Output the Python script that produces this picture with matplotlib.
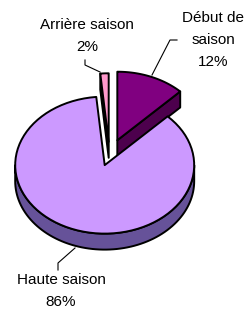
import numpy as np
import matplotlib

matplotlib.use("Agg")
import matplotlib.pyplot as plt
from matplotlib.patches import Polygon

# Données du graphique (parts de fréquentation par saison)
categories = ["Début de\nsaison", "Haute saison", "Arrière saison"]
values = [12.4, 86.1, 1.5]
explode = [0.23, 0.16, 0.19]
colors_top = ["#800080", "#CC99FF", "#FF99CC"]
colors_side = ["#4D004D", "#665299", "#995C7A"]

W, H = 249, 310
RX, RY = 89.5, 68.5  # demi-axes de l'ellipse en pixels
CX, CY = 109.5, 154.8  # centre du camembert en pixels
DEPTH = 16 / RY  # épaisseur du disque, en unités de rayon


def arc(cx, cy, a1, a2, n=80):
    t = np.radians(np.linspace(a1, a2, n))
    return np.column_stack([cx + np.cos(t), cy + np.sin(t)])


def px(x, y):
    # coordonnées pixels (origine en haut à gauche) -> fraction de figure
    return x / W, 1 - y / H


fig = plt.figure(figsize=(W / 100, H / 100), dpi=100)
ax = fig.add_axes([0, 0, 1, 1])
ax.set_xlim(-CX / RX, (W - CX) / RX)
ax.set_ylim(-(H - CY) / RY, CY / RY)
ax.axis("off")

total = sum(values)
start = 90.0
slices = []
for v, e in zip(values, explode):
    a1 = start
    a2 = start - v / total * 360
    mid = np.radians((a1 + a2) / 2)
    slices.append((a1, a2, e * np.cos(mid), e * np.sin(mid)))
    start = a2

lw = 1.4
for (a1, a2, ox, oy), ctop, cside in zip(slices, colors_top, colors_side):
    # face extérieure visible (moitié avant)
    for k in (-360, 0, 360):
        lo = max(a2, -180 + k)
        hi = min(a1, 0 + k)
        if hi > lo:
            top = arc(ox, oy, lo, hi)
            bot = top[::-1] - [0, DEPTH]
            ax.add_patch(Polygon(np.vstack([top, bot]), closed=True,
                                 facecolor=cside, edgecolor="black", lw=lw,
                                 joinstyle="round"))
    # faces radiales visibles
    for ang, sign in ((a2, 1), (a1, -1)):
        if sign * np.cos(np.radians(ang)) > 1e-6:
            rim = (ox + np.cos(np.radians(ang)), oy + np.sin(np.radians(ang)))
            quad = [(ox, oy), rim, (rim[0], rim[1] - DEPTH), (ox, oy - DEPTH)]
            ax.add_patch(Polygon(quad, closed=True, facecolor=cside,
                                 edgecolor="black", lw=lw, joinstyle="round"))
    # face supérieure
    pts = np.vstack([[ox, oy], arc(ox, oy, a2, a1)])
    ax.add_patch(Polygon(pts, closed=True, facecolor=ctop,
                         edgecolor="black", lw=lw, joinstyle="round"))

# Étiquettes
labels = [f"{c}\n{v:.0f}%" for c, v in zip(categories, values)]
label_pos = [(213, 40), (61, 291), (87, 36)]
leaders = [
    [(177, 40), (170, 40), (152, 75)],
    [(75, 248), (58, 263), (58, 270)],
    [(85, 60), (85, 65), (100, 72)],
]
for lab, (x, y), pts in zip(labels, label_pos, leaders):
    fx, fy = px(x, y)
    fig.text(fx, fy, lab, ha="center", va="center", multialignment="center",
             fontsize=11, family="Liberation Sans", linespacing=1.7)
    xs, ys = zip(*[px(a, b) for a, b in pts])
    ax.plot(xs, ys, color="black", lw=0.8, transform=fig.transFigure)

fig.savefig("out.png", dpi=100, facecolor="white")
